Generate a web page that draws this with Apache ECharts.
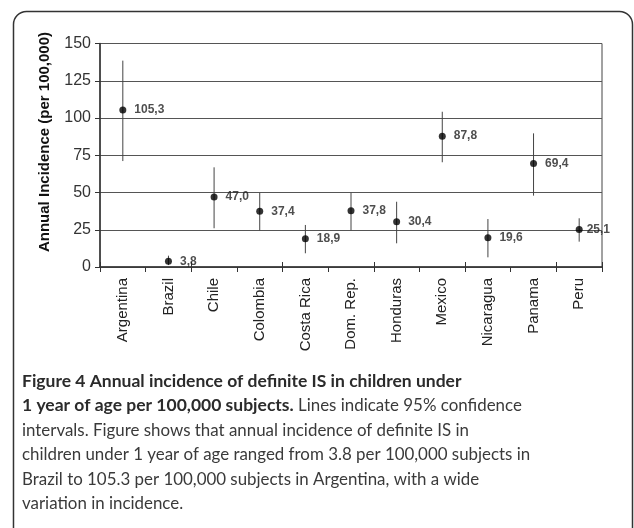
<!DOCTYPE html>
<html>
<head>
<meta charset="utf-8">
<script src="https://cdn.jsdelivr.net/npm/echarts@6/dist/echarts.min.js"></script>
<style>
  html, body { margin: 0; padding: 0; background: #ffffff; }
  #chart { width: 634px; height: 528px; }
</style>
</head>
<body>
<div id="chart"></div>
<script>
// Annual incidence of definite IS (per 100,000) with 95% confidence intervals
const countries = ['Argentina', 'Brazil', 'Chile', 'Colombia', 'Costa Rica', 'Dom. Rep.',
                   'Honduras', 'Mexico', 'Nicaragua', 'Panama', 'Peru'];
const incidence = [105.3, 3.8, 47.0, 37.4, 18.9, 37.8, 30.4, 87.8, 19.6, 69.4, 25.1];
const ciLow     = [71.1, 1.3, 26.0, 24.5, 9.2, 24.6, 15.9, 70.3, 6.5, 47.9, 17.0];
const ciHigh    = [138.5, 7.6, 66.9, 49.8, 28.2, 49.9, 43.8, 104.2, 32.2, 89.7, 32.7];
const yTicks    = [0, 25, 50, 75, 100, 125, 150];

const yAxisTitle = 'Annual Incidence (per 100,000)';
const captionBold = ['Figure 4 Annual incidence of definite IS in children under',
                     '1 year of age per 100,000 subjects.'];
const captionLines = [
  ' Lines indicate 95% confidence',
  'intervals. Figure shows that annual incidence of definite IS in',
  'children under 1 year of age ranged from 3.8 per 100,000 subjects in',
  'Brazil to 105.3 per 100,000 subjects in Argentina, with a wide',
  'variation in incidence.'
];

const axisFont = 'Liberation Sans';
const captionFont = 'Lato';

const chart = echarts.init(document.getElementById('chart'), null, { renderer: 'canvas' });

const fmt = v => v.toFixed(1).replace('.', ',');

const pointData = incidence.map((v, i) => {
  const item = { value: [i, v] };
  if (countries[i] === 'Peru') item.label = { distance: 4 };
  return item;
});

const ciData = countries.map((c, i) => [i, ciLow[i], ciHigh[i]]);

// caption text blocks
const capX = 22;
const capY0 = 381;
const lineH = 24.6;
const boldStyle = { fontFamily: captionFont, fontWeight: 'bold', fontSize: 17.5, fill: '#2b2b2b' };
const regStyle = { fontFamily: captionFont, fontWeight: 'normal', fontSize: 16.9, fill: '#3a3a3a' };

const graphics = [
  {
    type: 'rect',
    shape: { x: 13.5, y: 11.5, width: 619, height: 620, r: 13 },
    style: { fill: 'none', stroke: '#333', lineWidth: 1.5 },
    silent: true, z: -1
  },
  {
    // vertical axis title, sits a little above the plot's middle
    type: 'text', x: 45, y: 142, rotation: Math.PI / 2,
    style: {
      text: yAxisTitle, align: 'center', verticalAlign: 'middle',
      fontFamily: axisFont, fontWeight: 'bold', fontSize: 15, fill: '#111'
    }
  },
  {
    type: 'text', x: capX, y: capY0,
    style: Object.assign({ text: captionBold[0], verticalAlign: 'middle' }, boldStyle)
  },
  {
    type: 'text', x: capX, y: capY0 + lineH,
    style: {
      text: '{b|' + captionBold[1] + '}{r|' + captionLines[0] + '}',
      verticalAlign: 'middle',
      rich: { b: boldStyle, r: regStyle }
    }
  }
];
captionLines.slice(1).forEach((t, k) => {
  graphics.push({
    type: 'text', x: capX, y: capY0 + lineH * (k + 2),
    style: Object.assign({ text: t, verticalAlign: 'middle' }, regStyle)
  });
});

chart.setOption({
  animation: false,
  backgroundColor: '#ffffff',
  textStyle: { fontFamily: axisFont },
  grid: {
    left: 100, right: 32, top: 43.5, bottom: 261,
    show: true, borderColor: '#444', borderWidth: 1, backgroundColor: 'transparent'
  },
  xAxis: [
    {
      type: 'category', data: countries, boundaryGap: true,
      axisLine: { lineStyle: { color: '#333', width: 1.5 } },
      axisTick: { show: true, length: 5, lineStyle: { color: '#333', width: 1 } },
      axisLabel: {
        rotate: 90, margin: 11, color: '#222', fontSize: 15, fontFamily: axisFont, interval: 0
      },
      splitLine: { show: false }
    },
    {
      type: 'category', data: countries, boundaryGap: true, position: 'bottom',
      axisLine: { show: false },
      axisTick: { show: true, inside: true, length: 5, lineStyle: { color: '#333', width: 1 } },
      axisLabel: { show: false },
      splitLine: { show: false }
    }
  ],
  yAxis: {
    type: 'value', min: yTicks[0], max: yTicks[yTicks.length - 1], interval: 25,
    axisLine: { show: true, lineStyle: { color: '#333', width: 1.5 } },
    axisTick: { show: true, length: 5, lineStyle: { color: '#333' } },
    axisLabel: { margin: 9, color: '#333', fontSize: 16, fontFamily: axisFont },
    splitLine: { show: true, lineStyle: { color: '#555', width: 1 } }
  },
  graphic: graphics,
  series: [
    {
      type: 'custom',
      name: '95% CI',
      data: ciData,
      renderItem: (params, api) => {
        const lo = api.coord([api.value(0), api.value(1)]);
        const hi = api.coord([api.value(0), api.value(2)]);
        return {
          type: 'line',
          shape: { x1: lo[0], y1: lo[1], x2: hi[0], y2: hi[1] },
          style: { stroke: '#444', lineWidth: 1 }
        };
      },
      z: 3
    },
    {
      type: 'scatter',
      name: 'Incidence',
      data: pointData,
      symbol: 'circle', symbolSize: 7,
      itemStyle: { color: '#000' },
      label: {
        show: true, position: 'right', distance: 8,
        formatter: p => fmt(p.value[1]),
        fontSize: 12, fontWeight: 'bold', color: '#222', fontFamily: axisFont
      },
      z: 4
    }
  ]
});
</script>
</body>
</html>
